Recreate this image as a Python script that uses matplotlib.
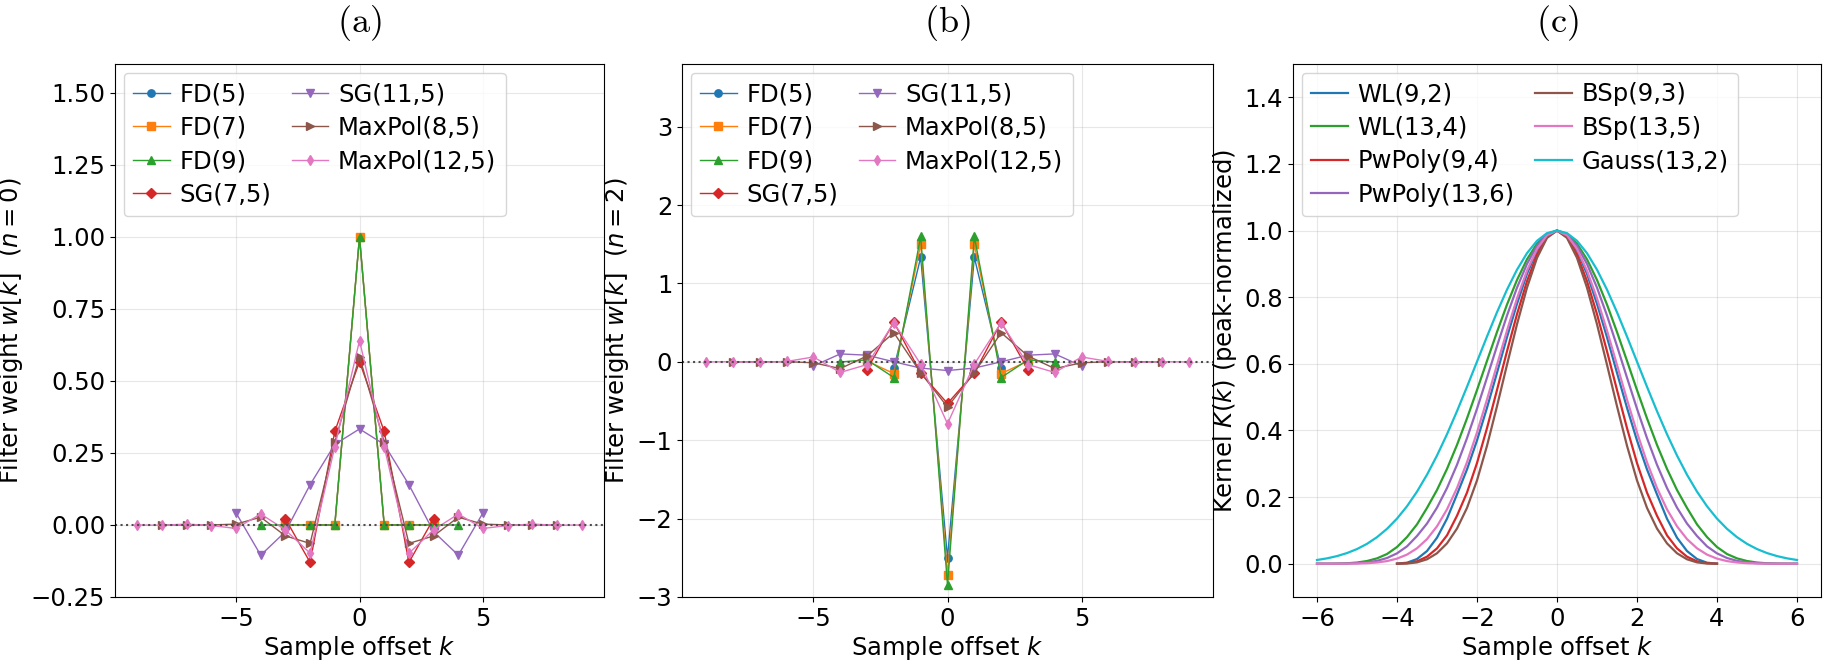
import numpy as np
import matplotlib
matplotlib.use("Agg")
import matplotlib.pyplot as plt

plt.rcParams['font.family'] = ['DejaVu Sans']
plt.rcParams['font.size'] = 17.5
plt.rcParams['axes.unicode_minus'] = True

# ---------------- Panel (a) / (b): discrete filter weights ----------------
k5 = [-2, -1, 0, 1, 2]
k7 = [-3, -2, -1, 0, 1, 2, 3]
k9 = [-4, -3, -2, -1, 0, 1, 2, 3, 4]
k11 = [-5, -4, -3, -2, -1, 0, 1, 2, 3, 4, 5]
k17 = [-8, -7, -6, -5, -4, -3, -2, -1, 0, 1, 2, 3, 4, 5, 6, 7, 8]
k19 = [-9, -8, -7, -6, -5, -4, -3, -2, -1, 0, 1, 2, 3, 4, 5, 6, 7, 8, 9]

# n = 0 (smoothing)
fd5_n0 = [0, 0, 1, 0, 0]
fd7_n0 = [0, 0, 0, 1, 0, 0, 0]
fd9_n0 = [0, 0, 0, 0, 1, 0, 0, 0, 0]
sg7_n0 = [0.0216, -0.1299, 0.3247, 0.5671, 0.3247, -0.1299, 0.0216]
sg11_n0 = [0.0420, -0.1049, -0.0233, 0.1399, 0.2797, 0.3333,
           0.2797, 0.1399, -0.0233, -0.1049, 0.0420]
mp8_n0 = [0.0, 0.0, 0.0, 0.003, 0.027, -0.038, -0.064, 0.288, 0.584,
          0.288, -0.064, -0.038, 0.027, 0.003, 0.0, 0.0, 0.0]
mp12_n0 = [0.0, -0.001, 0.003, -0.002, -0.012, 0.038, -0.017, -0.098, 0.272, 0.64,
           0.272, -0.098, -0.017, 0.038, -0.012, -0.002, 0.003, -0.001, 0.0]

# n = 2 (second derivative)
fd5_n2 = [-0.0833, 1.3333, -2.5, 1.3333, -0.0833]
fd7_n2 = [0.0111, -0.15, 1.5, -2.7222, 1.5, -0.15, 0.0111]
fd9_n2 = [-0.0018, 0.0254, -0.2, 1.6, -2.8472, 1.6, -0.2, 0.0254, -0.0018]
sg7_n2 = [-0.0985, 0.5076, -0.1439, -0.5303, -0.1439, 0.5076, -0.0985]
sg11_n2 = [-0.0524, 0.1014, 0.0851, 0.0006, -0.0793, -0.1107,
           -0.0793, 0.0006, 0.0851, 0.1014, -0.0524]
mp8_n2 = [0.0, 0.0, 0.003, -0.012, -0.086, 0.075, 0.372, -0.14, -0.575,
          -0.14, 0.372, 0.075, -0.086, -0.012, 0.003, 0.0, 0.0]
mp12_n2 = [-0.001, 0.002, -0.005, 0.005, 0.062, -0.135, -0.035, 0.50, -0.03, -0.79,
           -0.03, 0.50, -0.035, -0.135, 0.062, 0.005, -0.005, 0.002, -0.001]

filter_labels = ["FD(5)", "FD(7)", "FD(9)", "SG(7,5)", "SG(11,5)", "MaxPol(8,5)", "MaxPol(12,5)"]
filter_k = [k5, k7, k9, k7, k11, k17, k19]
filter_n0 = [fd5_n0, fd7_n0, fd9_n0, sg7_n0, sg11_n0, mp8_n0, mp12_n0]
filter_n2 = [fd5_n2, fd7_n2, fd9_n2, sg7_n2, sg11_n2, mp8_n2, mp12_n2]
filter_markers = ["o", "s", "^", "D", "v", ">", "d"]
filter_colors = ["tab:blue", "tab:orange", "tab:green", "tab:red",
                 "tab:purple", "tab:brown", "tab:pink"]

# ---------------- Panel (c): continuous kernels (half profiles, k >= 0) ----------------
x_half4 = np.linspace(0, 4, 17)
x_half6 = np.linspace(0, 6, 25)

wl_9_2 = [1.0, 0.985, 0.94, 0.87, 0.78, 0.68, 0.573, 0.468, 0.37, 0.283, 0.208,
          0.135, 0.078, 0.038, 0.014, 0.003, 0.0]
wl_13_4 = [1.0, 0.99, 0.9607, 0.9137, 0.8517, 0.7778, 0.6955, 0.6088, 0.5212, 0.4362,
           0.3565, 0.2845, 0.2212, 0.1674, 0.118, 0.080, 0.050, 0.029, 0.016, 0.008,
           0.0035, 0.0012, 0.0003, 0.0, 0.0]
pw_9_4 = [1.0, 0.9807, 0.9277, 0.848, 0.749, 0.6377, 0.5214, 0.407, 0.3021, 0.2134,
          0.1439, 0.085, 0.046, 0.021, 0.007, 0.0015, 0.0]
pw_13_6 = [1.0, 0.9883, 0.9542, 0.8998, 0.8286, 0.7449, 0.6533, 0.5585, 0.4651, 0.3769,
           0.2969, 0.2271, 0.1683, 0.1205, 0.0831, 0.052, 0.031, 0.017, 0.0085, 0.0038,
           0.0015, 0.0005, 0.0001, 0.0, 0.0]
bsp_9_3 = [1.0, 0.978, 0.918, 0.8286, 0.7188, 0.5972, 0.4727, 0.354, 0.25, 0.1675,
           0.1055, 0.061, 0.0313, 0.0132, 0.0039, 0.0005, 0.0]
bsp_13_5 = [1.0, 0.9859, 0.9448, 0.88, 0.7964, 0.6998, 0.5965, 0.4927, 0.3939, 0.3045,
            0.2271, 0.163, 0.1122, 0.0738, 0.0462, 0.0273, 0.0152, 0.0078, 0.0036, 0.0015,
            0.0005, 0.0001, 0.0, 0.0, 0.0]
gauss_13_2 = [1.0, 0.9922, 0.9692, 0.9321, 0.8825, 0.8226, 0.7548, 0.6819, 0.6065, 0.5311,
              0.4578, 0.3886, 0.3247, 0.2671, 0.2163, 0.1724, 0.1353, 0.1046, 0.0796, 0.0596,
              0.0439, 0.0319, 0.0228, 0.016, 0.0111]

kernel_labels = ["WL(9,2)", "WL(13,4)", "PwPoly(9,4)", "PwPoly(13,6)", "BSp(9,3)", "BSp(13,5)", "Gauss(13,2)"]
kernel_x = [x_half4, x_half6, x_half4, x_half6, x_half4, x_half6, x_half6]
kernel_vals = [wl_9_2, wl_13_4, pw_9_4, pw_13_6, bsp_9_3, bsp_13_5, gauss_13_2]
kernel_colors = ["tab:blue", "tab:green", "tab:red", "tab:purple", "tab:brown", "tab:pink", "tab:cyan"]


def mirror(x, y):
    x = np.asarray(x, float)
    y = np.asarray(y, float)
    return np.concatenate([-x[:0:-1], x]), np.concatenate([y[:0:-1], y])


W, H = 1824, 663
fig = plt.figure(figsize=(W / 100, H / 100), dpi=100)
top_px, bot_px = 64, 597


def add_ax(l, r):
    return fig.add_axes([l / W, 1 - bot_px / H, (r - l) / W, (bot_px - top_px) / H])


axA = add_ax(115, 604)
axB = add_ax(682, 1213)
axC = add_ax(1293, 1821)

leg_kw = dict(ncol=2, loc="upper left", handlelength=1.5, handletextpad=0.4,
              columnspacing=0.85, labelspacing=0.39, borderaxespad=0.35, fontsize=17.5)

for ax, data, ylab, ylim in [(axA, filter_n0, r"Filter weight $w[k]$  $(n=0)$", (-0.25, 1.6)),
                             (axB, filter_n2, r"Filter weight $w[k]$  $(n=2)$", (-3, 3.8))]:
    for kk, vals, lab, mk, col in zip(filter_k, data, filter_labels, filter_markers, filter_colors):
        ax.plot(kk, vals, marker=mk, color=col, lw=1.0, ms=5.3, label=lab)
    ax.axhline(0, color="0.3", ls=":", lw=1.5)
    ax.set_ylim(*ylim)
    ax.set_ylabel(ylab)
    ax.set_xlabel(r"Sample offset $k$", labelpad=2)
    ax.grid(True, alpha=0.3)
    ax.legend(**leg_kw)

for xh, vals, lab, col in zip(kernel_x, kernel_vals, kernel_labels, kernel_colors):
    xx, yy = mirror(xh, vals)
    axC.plot(xx, yy, color=col, lw=1.6, label=lab)
axC.set_ylim(-0.1, 1.5)
axC.set_ylabel(r"Kernel $K(k)$ (peak-normalized)")
axC.set_xlabel(r"Sample offset $k$", labelpad=2)
axC.grid(True, alpha=0.3)
axC.legend(**leg_kw)

for ax, t in zip([axA, axB, axC], ["(a)", "(b)", "(c)"]):
    ax.set_title(r"$\mathrm{" + t + "}$", fontsize=26, pad=23, math_fontfamily="cm")

fig.savefig("out.png", dpi=100)
